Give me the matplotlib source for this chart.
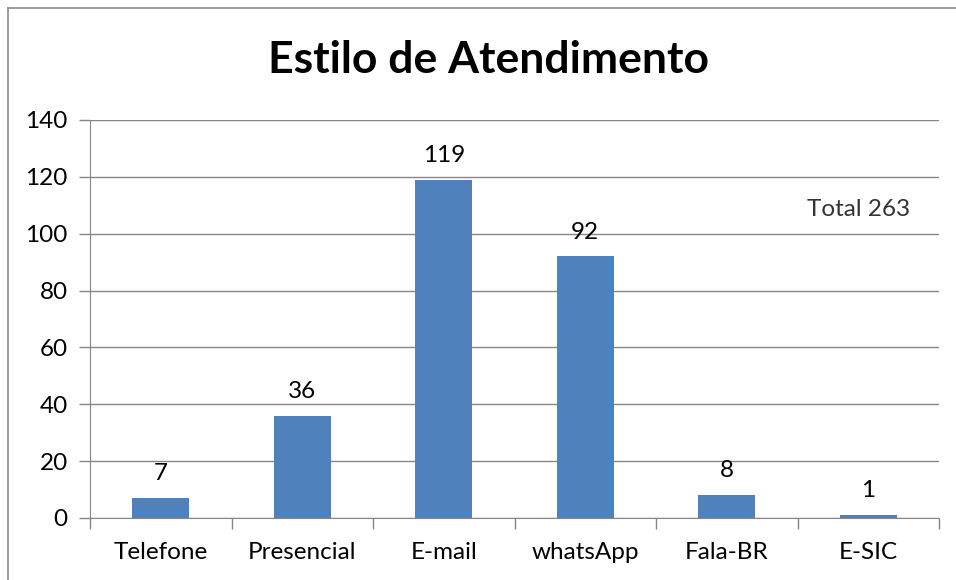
import numpy as np
import matplotlib.pyplot as plt
from matplotlib.lines import Line2D

# chart data
categories = ['Telefone', 'Presencial', 'E-mail', 'whatsApp', 'Fala-BR', 'E-SIC']
counts = [7, 36, 119, 92, 8, 1]
total_label = 'Total 263'
y_ticks = [0, 20, 40, 60, 80, 100, 120, 140]

plt.rcParams['font.family'] = ['Lato', 'DejaVu Sans']

fig = plt.figure(figsize=(9.56, 5.8), dpi=100)
ax = fig.add_axes([90 / 956, 62 / 580, 849 / 956, 398 / 580])

grid_col = '#868686'
bar_col = '#4F81BD'

x = np.arange(len(categories))
bars = ax.bar(x, counts, width=0.4, color=bar_col, zorder=3)

for xi, v in zip(x, counts):
    ax.annotate(str(v), (xi, v), xytext=(0, 10), textcoords='offset points',
                ha='center', va='bottom', fontsize=17.5, color='black')

ax.set_xlim(-0.5, len(categories) - 0.5)
ax.set_ylim(0, 140)
ax.set_yticks(y_ticks)
ax.set_yticklabels([str(t) for t in y_ticks], fontsize=17.5)
ax.set_xticks(x)
ax.set_xticklabels(categories, fontsize=17.5)
ax.tick_params(axis='x', length=0, pad=17)
ax.tick_params(axis='y', length=8, width=1, color=grid_col, pad=8)

# category boundary ticks below the axis
ax.set_xticks(np.arange(-0.5, len(categories)), minor=True)
ax.tick_params(axis='x', which='minor', length=8, width=1, color=grid_col, direction='out')

ax.grid(axis='y', color=grid_col, linewidth=1, zorder=0)
for s in ['top', 'right']:
    ax.spines[s].set_visible(False)
ax.spines['left'].set_color(grid_col)
ax.spines['bottom'].set_color(grid_col)

ax.text(0.966, 0.776, total_label, transform=ax.transAxes, ha='right', va='center',
        fontsize=17.5, color='#333333')

fig.text(488 / 956, 1 - 60 / 580, 'Estilo de Atendimento', ha='center', va='center',
         fontsize=32, fontweight='bold', color='black')

# chart frame (left and top edges)
fig.add_artist(Line2D([8 / 956, 8 / 956], [0, 1 - 8 / 580], transform=fig.transFigure,
                      color='#8c8c8c', linewidth=1.2))
fig.add_artist(Line2D([8 / 956, 1], [1 - 8 / 580, 1 - 8 / 580], transform=fig.transFigure,
                      color='#8c8c8c', linewidth=1.2))

fig.savefig('out.png', dpi=100)
